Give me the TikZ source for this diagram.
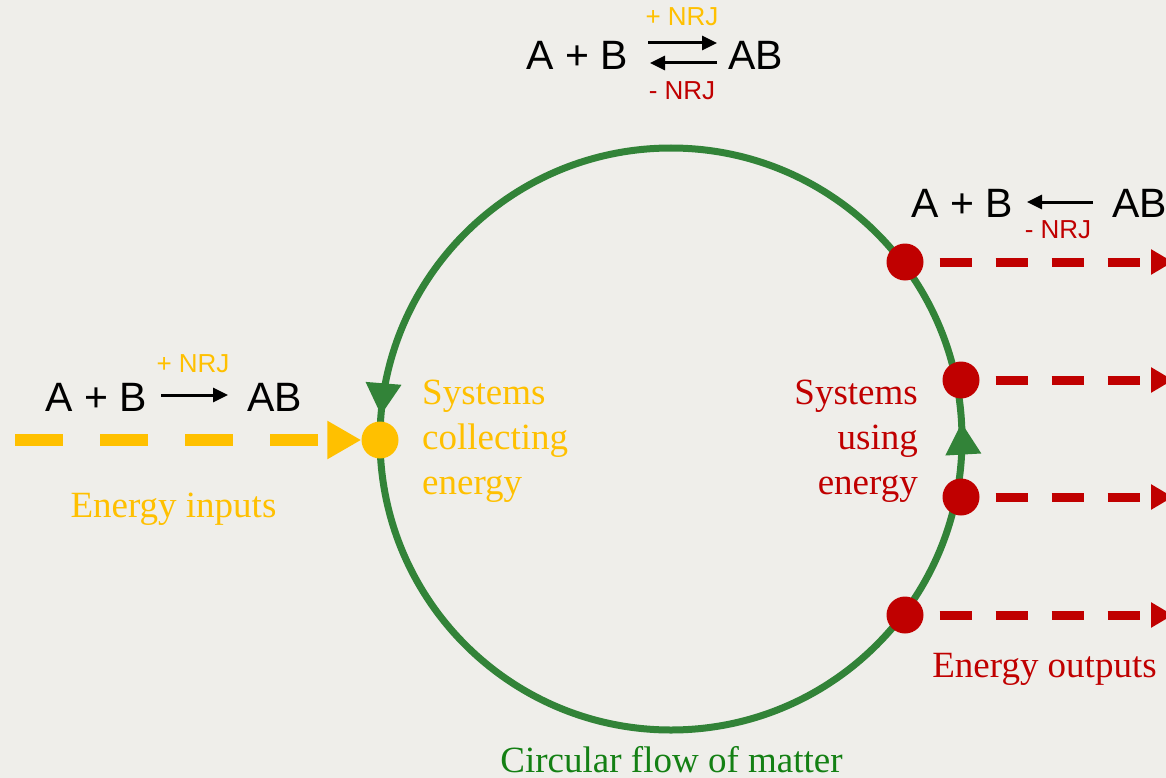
\documentclass[tikz,border=0pt]{standalone}
\usepackage{fontspec}
\setmainfont{Liberation Serif}
\newfontfamily\eqfont{Liberation Sans}
\usetikzlibrary{arrows.meta,decorations.markings}
\definecolor{bgcol}{RGB}{239,238,234}
\definecolor{nrjin}{RGB}{255,192,0}
\definecolor{nrjout}{RGB}{192,0,0}
\definecolor{matter}{RGB}{50,131,56}
\definecolor{mattertxt}{RGB}{20,128,20}

\begin{document}
\begin{tikzpicture}[x=1pt, y=-1pt,
  every node/.style={inner sep=0pt},
  eq/.style={font=\eqfont\fontsize{41}{49}\selectfont, anchor=base},
  nrj/.style={font=\eqfont\fontsize{26}{30}\selectfont, anchor=base},
  lbl/.style={font=\fontsize{37}{45}\selectfont},
  rxn/.style={line width=3pt, -{Triangle[length=15pt,width=14pt]}},
  sysdot/.style={circle, minimum size=37pt},
  inflow/.style={nrjin, line width=12pt, dash pattern=on 48pt off 37pt, -{Triangle[length=34pt,width=36pt]}},
  outflow/.style={nrjout, line width=9pt, dash pattern=on 32pt off 24pt, shorten <=16pt, -{Triangle[length=22pt,width=24pt]}},
  matterflow/.style={matter, line width=7pt, postaction={decorate}, decoration={markings,
    mark=at position 0.259 with {\arrow{Triangle[length=32pt,width=34pt]}},
    mark=at position 0.737 with {\arrow{Triangle[length=32pt,width=34pt]}}}}]
\useasboundingbox (0,0) rectangle (1166,778);
\fill[bgcol] (0,0) rectangle (1166,778);

% circular flow of matter
\coordinate (ctr) at (671,439);
\draw[matterflow] (ctr) ++(90:291) arc[start angle=90, end angle=-270, radius=291];
\node[lbl, mattertxt, anchor=base] (matterlbl) at (671.5,772) {Circular flow of matter};

% energy inputs
\node[sysdot, fill=nrjin] (indot) at (380,440) {};
\coordinate (instart) at (15,440);
\draw[inflow] (instart) -- (indot.west);
\node[lbl, nrjin, anchor=west, align=left] (collect) at (422,441) {Systems\\collecting\\energy};
\node[lbl, nrjin, anchor=base] (inlbl) at (173.5,517) {Energy inputs};

% energy outputs
\node[sysdot, fill=nrjout] (out1) at (905,262) {};
\node[sysdot, fill=nrjout] (out2) at (961,380) {};
\node[sysdot, fill=nrjout] (out3) at (961,497) {};
\node[sysdot, fill=nrjout] (out4) at (905,615) {};
\coordinate (redge) at (1173,0);
\foreach \o in {out1,out2,out3,out4}
  \draw[outflow] (\o.east) -- (\o.east -| redge);
\node[lbl, nrjout, anchor=east, align=right] (use) at (918,441) {Systems\\using\\energy};
\node[lbl, nrjout, anchor=base] (outlbl) at (1044.5,677) {Energy outputs};

% reversible reaction
\node[eq] (topA) at (577.5,70) {A + B};
\node[eq] (topAB) at (755.5,70) {AB};
\coordinate (tf1) at (648,43); \coordinate (tf2) at (717,43);
\coordinate (tb1) at (717,63); \coordinate (tb2) at (650,63);
\draw[rxn] (tf1) -- (tf2);
\draw[rxn] (tb1) -- (tb2);
\node[nrj, nrjin] (topplus) at (682,26) {+ NRJ};
\node[nrj, nrjout] (topminus) at (682,100) {- NRJ};

% reaction releasing energy
\node[eq] (relA) at (962,217) {A + B};
\node[eq] (relAB) at (1139.5,217) {AB};
\coordinate (rb1) at (1093,202); \coordinate (rb2) at (1027,202);
\draw[rxn] (rb1) -- (rb2);
\node[nrj, nrjout] (relminus) at (1058,238) {- NRJ};

% reaction storing energy
\node[eq] (stoA) at (96.5,411) {A + B};
\node[eq] (stoAB) at (274.5,411) {AB};
\coordinate (sf1) at (161,395); \coordinate (sf2) at (228,395);
\draw[rxn] (sf1) -- (sf2);
\node[nrj, nrjin] (stoplus) at (193,372) {+ NRJ};
\end{tikzpicture}
\end{document}
